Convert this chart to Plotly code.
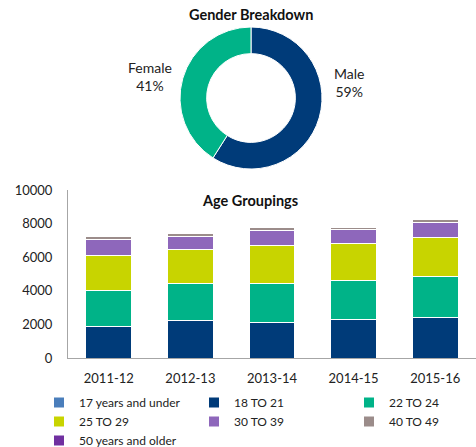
import plotly.graph_objects as go

# Gender donut data
gender_labels = ["Male", "Female"]
gender_values = [59, 41]
gender_colors = ["#003b79", "#00b388"]

# Age grouping data
years = ["2011-12", "2012-13", "2013-14", "2014-15", "2015-16"]
age_groups = ["17 years and under", "18 TO 21", "22 TO 24", "25 TO 29",
              "30 TO 39", "40 TO 49", "50 years and older"]
age_colors = ["#4a7ebb", "#003b79", "#00b388", "#c8d400", "#8e67bb", "#9b8c8a", "#7030a0"]
v_17_under = [0, 0, 0, 0, 0]
v_18_21 = [1900, 2240, 2140, 2300, 2440]
v_22_24 = [2100, 2180, 2280, 2300, 2400]
v_25_29 = [2130, 2010, 2250, 2190, 2320]
v_30_39 = [910, 790, 890, 830, 900]
v_40_49 = [190, 200, 190, 170, 180]
v_50_older = [0, 0, 0, 0, 0]
age_values = [v_17_under, v_18_21, v_22_24, v_25_29, v_30_39, v_40_49, v_50_older]
y_ticks = [0, 2000, 4000, 6000, 8000, 10000]

FONT = "Lato, 'Open Sans', sans-serif"
W, H = 476, 447

fig = go.Figure()

fig.add_trace(go.Pie(
    labels=gender_labels, values=gender_values,
    marker=dict(colors=gender_colors, line=dict(color="white", width=1)),
    hole=0.625, sort=False, direction="clockwise", rotation=0,
    textinfo="none", textposition="none", hoverinfo="label+percent", showlegend=False,
    domain=dict(x=[(251 - 71) / W, (251 + 71) / W], y=[1 - 169 / H, 1 - 27 / H]),
))

for name, vals, col in zip(age_groups, age_values, age_colors):
    fig.add_trace(go.Bar(
        x=years, y=vals, name=name,
        marker=dict(color=col, line=dict(color="white", width=1)),
        xaxis="x", yaxis="y",
    ))

total = sum(gender_values)
label_pos = {"Male": (349, 82), "Female": (150, 77)}
annotations = []
for lab, val in zip(gender_labels, gender_values):
    px, py = label_pos[lab]
    annotations.append(dict(
        text=f"{lab}<br>{round(100 * val / total)}%", x=px / W, y=1 - py / H,
        xref="paper", yref="paper", showarrow=False, xanchor="center", yanchor="middle",
        font=dict(family=FONT, size=14, color="#222"), align="center",
    ))
annotations.append(dict(text="<b>Gender Breakdown</b>", x=251 / W, y=1 - 14 / H,
                        xref="paper", yref="paper", showarrow=False,
                        xanchor="center", yanchor="middle",
                        font=dict(family=FONT, size=14.5, color="#111")))
annotations.append(dict(text="<b>Age Groupings</b>", x=250 / W, y=1 - 200 / H,
                        xref="paper", yref="paper", showarrow=False,
                        xanchor="center", yanchor="middle",
                        font=dict(family=FONT, size=14.5, color="#111")))

fig.update_layout(
    width=W, height=H,
    margin=dict(l=0, r=0, t=0, b=0, autoexpand=False),
    paper_bgcolor="white", plot_bgcolor="white",
    barmode="stack", bargap=0.44,
    font=dict(family=FONT, size=13, color="#222"),
    xaxis=dict(domain=[68 / W, 1], type="category", showline=True, linecolor="#a6a6a6",
               linewidth=1, showgrid=False, ticks="", tickfont=dict(size=13),
               ticklabelstandoff=8, anchor="y", automargin=False),
    yaxis=dict(domain=[1 - 358 / H, 1 - 190 / H], range=[0, 10000], tickvals=y_ticks,
               tickformat="d",
               showline=True, linecolor="#a6a6a6", linewidth=1, showgrid=False,
               zeroline=False, ticks="", tickfont=dict(size=13), ticklabelstandoff=12,
               anchor="x", automargin=False),
    legend=dict(orientation="h", x=39 / W, y=1 - 388 / H, xanchor="left", yanchor="top",
                entrywidth=110, entrywidthmode="pixels", traceorder="normal",
                font=dict(size=12, family=FONT), itemsizing="constant",
                tracegroupgap=0, bgcolor="rgba(0,0,0,0)"),
    annotations=annotations,
)

fig.write_html("out.html", config={"displayModeBar": False},
               post_script="document.body.style.margin='0';document.body.style.overflow='hidden';")
